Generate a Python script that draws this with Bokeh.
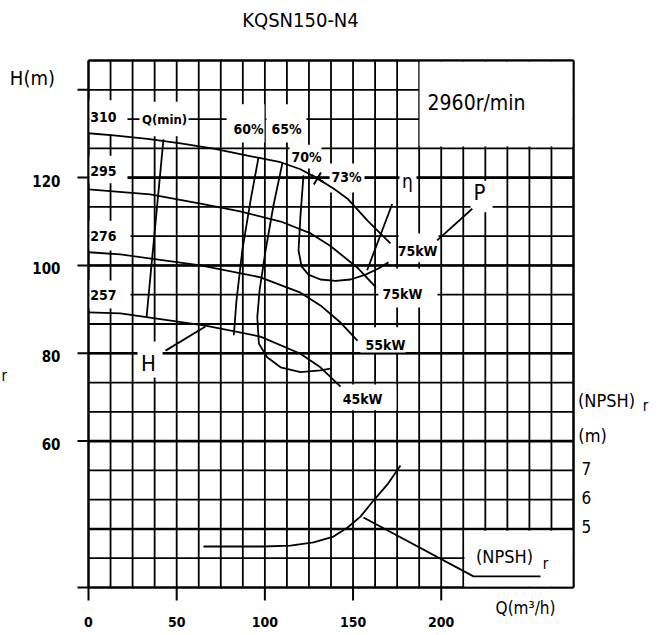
import numpy as np
from bokeh.plotting import figure
from bokeh.models import Range1d
from bokeh.core.properties import value
from bokeh.embed import file_html
from bokeh.resources import INLINE

FONT = "DejaVu Sans Condensed"

# ---- grid (Q in m3/h, H in m) ----
q_grid = np.arange(0, 275.01, 12.5)
h_grid = np.linspace(80 / 3, 440 / 3, 19)
h_major = [40, 60, 80, 100, 120]
q_ticks = [0, 50, 100, 150, 200]
q_tick_labels = ["0", "50", "100", "150", "200"]
h_ticks = [80 / 3, 60, 80, 100, 120, 140]
h_label_ticks = [60, 80, 100, 120]
h_tick_labels = ["60", "80", "100", "120"]
npsh_ticks = [5, 6, 7]
npsh_tick_labels = ["5", "6", "7"]

# ---- H-Q curves for impeller diameters ----
q_310 = [0, 14.2, 33.5, 52.2, 70.9, 90.2, 108.9, 120.2, 129.8, 138.9, 146.9, 158.2, 171.2]
h_310 = [130.1, 129.6, 128.8, 127.8, 126.6, 125.0, 123.5, 121.9, 119.8, 117.5, 115.2, 110.2, 105.0]
q_295 = [0, 35, 63.5, 86, 109, 126, 137, 153, 163]
h_295 = [117.3, 116.2, 114.1, 112.3, 110.0, 107.3, 104.5, 99.3, 95.0]
q_276 = [0, 18.1, 63.5, 97.5, 120.2, 131.5, 142.9, 152.5]
h_276 = [103.0, 102.5, 100.0, 97.3, 93.8, 90.9, 87.0, 82.9]
q_257 = [0, 18.1, 66.3, 97.5, 120.2, 131.5, 142.9]
h_257 = [89.3, 89.1, 86.3, 83.8, 79.9, 76.8, 72.4]

# ---- iso-efficiency lines ----
q_min = [42.5, 32.9]
h_min = [128.7, 88.2]
q_60 = [96.4, 91.9, 87.2, 83.9, 82.4]
h_60 = [124.6, 114.8, 103.4, 92.0, 84.1]
q_65 = [110.0, 104.9, 100.4, 97.0, 95.7, 96.6, 101.3, 108.9, 120.2, 131.5, 137.2]
h_65 = [123.4, 113.7, 103.4, 94.3, 88.2, 82.2, 79.1, 76.8, 75.7, 76.1, 76.5]
q_70 = [121.9, 120.2, 119.1, 120.8, 124.7, 131.5, 140.1, 148.6, 157.1, 164.4, 170.1]
h_70 = [120.5, 111.4, 103.4, 99.8, 97.9, 96.8, 96.5, 96.8, 97.9, 99.3, 100.7]
q_bep = [129.8]
h_bep = [119.8]

# ---- NPSHr curve ----
q_npsh = [65.2, 99.2, 114.5, 127.6, 138.9, 146.9, 154.2, 161.6, 169.5, 176.9]
npsh = [4.40, 4.40, 4.43, 4.54, 4.74, 5.05, 5.42, 5.97, 6.52, 7.17]

# ---- leader lines ----
lead_h_q, lead_h_h = [43.7, 66.3], [80.6, 86.1]
lead_p_q, lead_p_h = [197.7, 217.6], [105.7, 112.9]
lead_e_q, lead_e_h = [172.2, 158.0], [114.0, 98.9]
lead_n_q, lead_n_h = [155.9, 218.3, 256.3], [42.6, 29.2, 29.2]

# ---- white label areas (left, right, bottom, top) ----
mask_l = [0.6, 0.6, 0.6, 0.6, 28.9, 78.3, 100.9, 114.0, 136.7, 176.3, 216.6, 175.8, 164.4, 154.2, 142.9, 27.8, 187.7, 213.2]
mask_r = [22.1, 22.1, 23.8, 23.8, 56.7, 99.8, 123.6, 132.1, 156.5, 186.0, 229.1, 198.5, 197.9, 179.8, 174.6, 42.0, 274.4, 274.4]
mask_b = [129.8, 118.7, 103.4, 90.2, 129.4, 128.0, 128.0, 122.1, 116.6, 114.8, 112.1, 100.7, 90.4, 80.2, 67.0, 74.5, 127.1, 26.9]
mask_t = [137.6, 125.0, 110.2, 96.6, 137.3, 136.7, 136.7, 127.5, 123.2, 123.4, 119.3, 107.3, 99.3, 85.9, 72.9, 82.7, 146.4, 39.6]

QMIN, QMAX = 0, 275
YMIN, YMAX = 80 / 3, 440 / 3

# the drawing area spans the whole canvas; the grid sits inside it
p = figure(width=660, height=635, output_backend="svg", toolbar_location=None,
           x_range=Range1d(-49.897, 324.33), y_range=Range1d(15.737, 160.329),
           x_axis_type=None, y_axis_type=None,
           min_border_left=0, min_border_right=0, min_border_top=0, min_border_bottom=0)
p.extra_y_ranges = {"npsh": Range1d(1.3605, 23.049)}
p.outline_line_color = None
p.background_fill_color = "white"
p.border_fill_color = "white"

# grid lines and frame
p.segment(x0=q_grid, y0=YMIN, x1=q_grid, y1=YMAX, line_color="black", line_width=1.8)
p.segment(x0=QMIN, y0=h_grid, x1=QMAX, y1=h_grid, line_color="black", line_width=1.8)
p.segment(x0=QMIN, y0=h_major, x1=QMAX, y1=h_major, line_color="black", line_width=2.6)
p.segment(x0=[QMIN, QMAX, QMIN, QMIN], y0=[YMIN, YMIN, YMIN, YMAX],
          x1=[QMIN, QMAX, QMAX, QMAX], y1=[YMAX, YMAX, YMIN, YMAX], line_color="black", line_width=2.2)

# ticks outside the grid
p.segment(x0=-6.24, y0=h_ticks, x1=QMIN, y1=h_ticks, line_color="black", line_width=2)
p.segment(x0=q_ticks, y0=23.71, x1=q_ticks, y1=YMIN, line_color="black", line_width=2)

# white label areas
p.quad(left=mask_l, right=mask_r, bottom=mask_b, top=mask_t, fill_color="white", line_color=None)

LW = 1.8
for qq, hh in [(q_310, h_310), (q_295, h_295), (q_276, h_276), (q_257, h_257),
               (q_min, h_min), (q_60, h_60), (q_65, h_65), (q_70, h_70),
               (lead_h_q, lead_h_h), (lead_p_q, lead_p_h), (lead_e_q, lead_e_h),
               (lead_n_q, lead_n_h)]:
    p.line(qq, hh, line_color="black", line_width=LW)
p.line(q_npsh, npsh, y_range_name="npsh", line_color="black", line_width=LW)
p.scatter(q_bep, h_bep, marker="x", size=14, angle=0.25, line_color="black", line_width=2)

# tick labels
p.text(x=-15.9, y=h_label_ticks, text=h_tick_labels, y_offset=3, text_font=value(FONT),
       text_font_size=value("15px"), text_font_style="bold", text_align="right",
       text_baseline="middle", text_color="black")
p.text(x=q_ticks, y=18.9, text=q_tick_labels, text_font=value(FONT),
       text_font_size=value("14px"), text_font_style="bold", text_align="center",
       text_baseline="middle", text_color="black")
p.text(x=279.5, y=npsh_ticks, text=npsh_tick_labels, y_offset=-2, y_range_name="npsh",
       text_font=value(FONT), text_font_size=value("17px"), text_align="left",
       text_baseline="middle", text_color="black")


def lab(x, y, text, size, bold=False, align="center"):
    p.text(x=[x], y=[y], text=[text], text_font=value(FONT), text_font_size=value(f"{size}px"),
           text_font_style="bold" if bold else "normal",
           text_align=align, text_baseline="middle", text_color="black")


lab(120.2, 155.8, "KQSN150-N4", 20)
lab(-31.8, 142.6, "H(m)", 20)
lab(220.0, 137.1, "2960r/min", 21)
for txt, yy in [("310", 133.7), ("295", 121.6), ("276", 106.8), ("257", 93.2)]:
    lab(8.5, yy, txt, 14, bold=True)
lab(43.1, 133.2, "Q(min)", 13, bold=True)
lab(90.7, 131.0, "60%", 14, bold=True)
lab(112.3, 131.0, "65%", 14, bold=True)
lab(123.6, 124.8, "70%", 14, bold=True)
lab(146.3, 120.2, "73%", 14, bold=True)
lab(180.9, 119.3, "η", 19)
lab(221.7, 116.6, "P", 22)
lab(186.6, 103.4, "75kW", 14, bold=True)
lab(178.0, 93.4, "75kW", 14, bold=True)
lab(168.4, 81.8, "55kW", 14, bold=True)
lab(155.4, 69.7, "45kW", 14, bold=True)
lab(34.0, 77.7, "H", 22)
lab(235.9, 33.7, "(NPSH)", 18)
lab(259.1, 32.1, "r", 15)
lab(293.7, 69.3, "(NPSH)", 18)
lab(315.8, 67.9, "r", 15)
lab(285.8, 61.3, "(m)", 18)
lab(247.8, 21.9, "Q(m³/h)", 17)
lab(-49.3, 74.9, "r", 15, align="left")

open("out.html", "w").write(file_html(p, INLINE))
